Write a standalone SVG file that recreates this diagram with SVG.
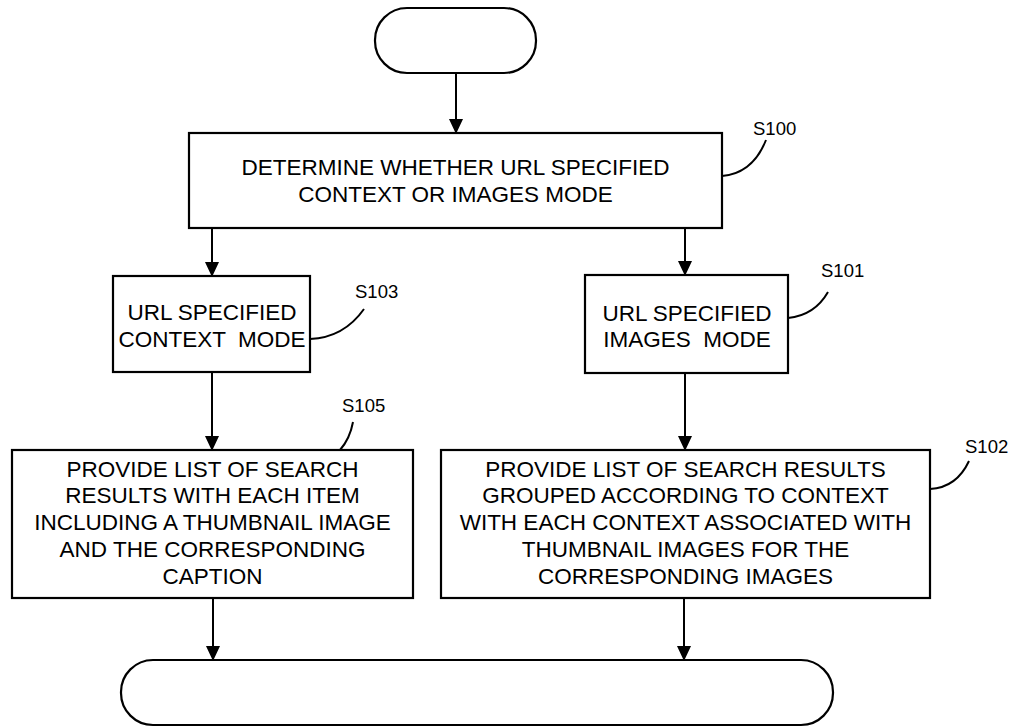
<svg xmlns="http://www.w3.org/2000/svg" width="1021" height="728" viewBox="0 0 1021 728">
<style>
.box{fill:#fff;stroke:#000;stroke-width:2.2}
.t{font-family:"Liberation Sans",Arial,sans-serif;font-size:22.5px;fill:#000;text-anchor:middle}
.lbl{font-family:"Liberation Sans",Arial,sans-serif;font-size:18.5px;fill:#000}
.ln{fill:none;stroke:#000;stroke-width:2}
</style>
<defs>
<marker id="ah" markerWidth="15" markerHeight="16" refX="15" refY="7.5" orient="auto" markerUnits="userSpaceOnUse" viewBox="0 0 16 15">
<path d="M0,0 L16,7.5 L0,15 Z" fill="#000"/>
</marker>
</defs>
<rect width="1021" height="728" fill="#fff"/>
<g id="connectors">
<line class="ln" x1="456" y1="73" x2="456" y2="133" marker-end="url(#ah)"/>
<line class="ln" x1="212" y1="228" x2="212" y2="276" marker-end="url(#ah)"/>
<line class="ln" x1="685" y1="228" x2="685" y2="275" marker-end="url(#ah)"/>
<line class="ln" x1="212" y1="372" x2="212" y2="450" marker-end="url(#ah)"/>
<line class="ln" x1="685" y1="373" x2="685" y2="450" marker-end="url(#ah)"/>
<line class="ln" x1="213" y1="598" x2="213" y2="660" marker-end="url(#ah)"/>
<line class="ln" x1="684" y1="598" x2="684" y2="660" marker-end="url(#ah)"/>
<path class="ln" d="M722,176 C745,174 758,160 766,140"/>
<path class="ln" d="M310,339 C335,338 352,326 364,309"/>
<path class="ln" d="M788,318 C808,316 820,306 828,292"/>
<path class="ln" d="M340,450 C347,442 351,433 353,422"/>
<path class="ln" d="M930,489 C950,488 962,476 969,461"/>
</g>
<g id="start">
<rect class="box" x="375" y="8" width="161" height="65" rx="32" ry="32"/>
</g>
<g id="s100">
<rect class="box" x="189" y="133" width="533" height="95"/>
<text class="t" x="455.5" y="175">DETERMINE WHETHER URL SPECIFIED</text>
<text class="t" x="455.5" y="202">CONTEXT OR IMAGES MODE</text>
<text class="lbl" x="753" y="135">S100</text>
</g>
<g id="s103">
<rect class="box" x="113" y="276" width="197" height="96"/>
<text class="t" x="212" y="320">URL SPECIFIED</text>
<text class="t" x="212" y="347" xml:space="preserve">CONTEXT  MODE</text>
<text class="lbl" x="355" y="298">S103</text>
</g>
<g id="s101">
<rect class="box" x="585" y="275" width="203" height="98"/>
<text class="t" x="687" y="321">URL SPECIFIED</text>
<text class="t" x="687" y="347" xml:space="preserve">IMAGES  MODE</text>
<text class="lbl" x="821" y="277">S101</text>
</g>
<g id="s105">
<rect class="box" x="12" y="450" width="401" height="148"/>
<text class="t" x="212.5" y="477">PROVIDE LIST OF SEARCH</text>
<text class="t" x="212.5" y="503">RESULTS WITH EACH ITEM</text>
<text class="t" x="212.5" y="530">INCLUDING A THUMBNAIL IMAGE</text>
<text class="t" x="212.5" y="557">AND THE CORRESPONDING</text>
<text class="t" x="212.5" y="584">CAPTION</text>
<text class="lbl" x="342" y="412">S105</text>
</g>
<g id="s102">
<rect class="box" x="441" y="450" width="489" height="148"/>
<text class="t" x="685.5" y="477">PROVIDE LIST OF SEARCH RESULTS</text>
<text class="t" x="685.5" y="503">GROUPED ACCORDING TO CONTEXT</text>
<text class="t" x="685.5" y="530">WITH EACH CONTEXT ASSOCIATED WITH</text>
<text class="t" x="685.5" y="557">THUMBNAIL IMAGES FOR THE</text>
<text class="t" x="685.5" y="584">CORRESPONDING IMAGES</text>
<text class="lbl" x="965" y="453">S102</text>
</g>
<g id="end">
<rect class="box" x="121" y="660" width="712" height="65" rx="32" ry="32"/>
</g>
</svg>
